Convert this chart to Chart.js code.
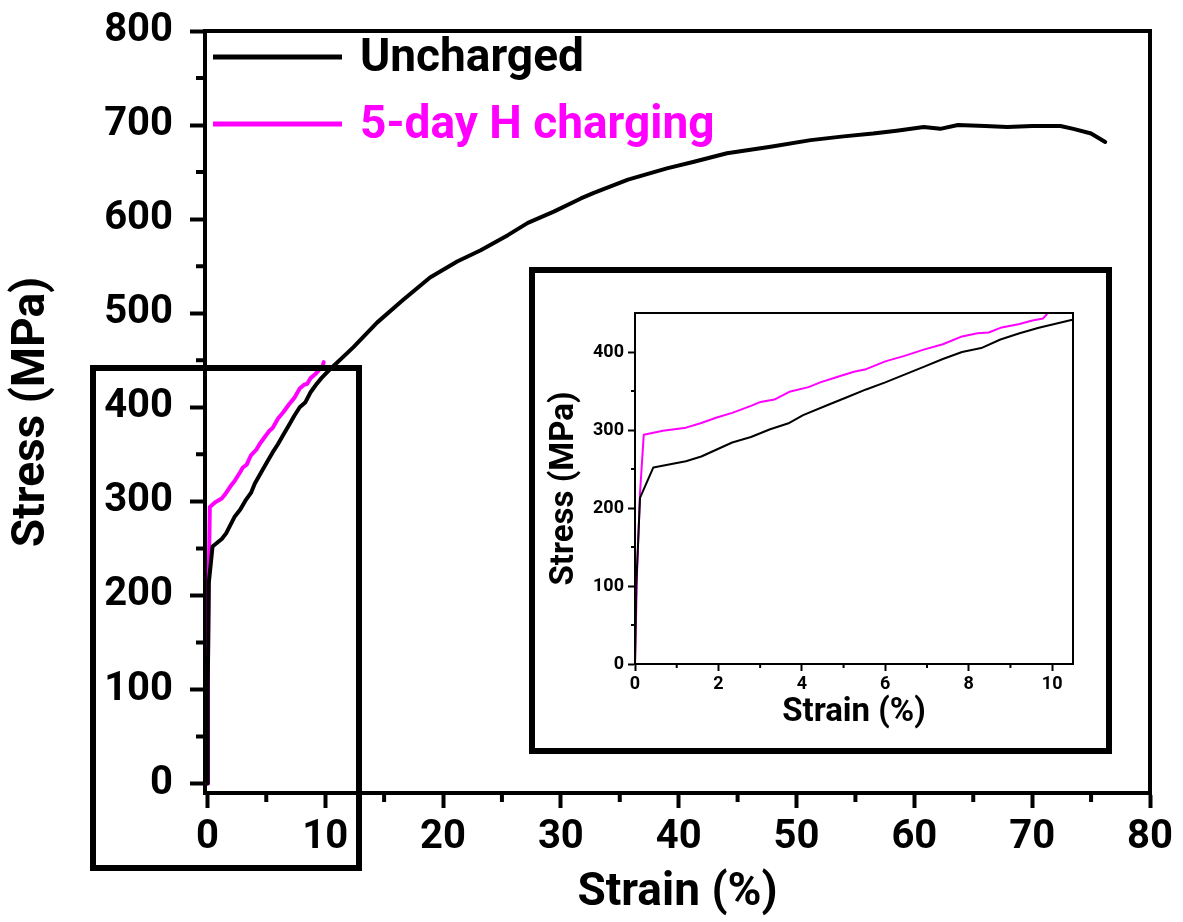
<!DOCTYPE html>
<html><head><meta charset="utf-8">
<script src="https://cdn.jsdelivr.net/npm/chart.js@4.4.1/dist/chart.umd.min.js"></script>
<style>
html,body{margin:0;padding:0;background:#fff;}
#wrap{position:relative;width:1183px;height:922px;overflow:hidden;}
#main{position:absolute;left:0;top:0;}
#zoomBox{position:absolute;left:90px;top:365px;width:272px;height:506px;border:6px solid #000;box-sizing:border-box;}
#insetBox{position:absolute;left:529px;top:267px;width:583px;height:487px;border:6px solid #000;box-sizing:border-box;background:#fff;}
#inset{position:absolute;left:0;top:0;}
</style></head>
<body><div id="wrap">
<canvas id="main" width="1183" height="922" style="width:1183px;height:922px"></canvas>
<div id="zoomBox"></div>
<div id="insetBox"><canvas id="inset" width="571" height="475" style="width:571px;height:475px"></canvas></div>
</div>
<script>
// ---- data ----
const seriesNames = ['Uncharged', '5-day H charging'];
const seriesColors = ['#000000', '#FF00FF'];

const uStrain = [0, 0.03, 0.12, 0.44, 1.22, 1.59, 1.96, 2.33, 2.78, 3.24, 3.7, 4.03, 4.62, 5.08, 5.54, 6.0, 6.46, 6.92, 7.38, 7.84, 8.3, 8.76, 9.22, 9.68, 10.46,
  12.4, 14.4, 16.6, 18.9, 21.2, 23.2, 25.5, 27.2, 29.4, 31.7, 32.8, 35.7, 39.0, 41.3, 44.1, 47.8, 51.2, 54.0, 56.5, 58.5, 60.8, 62.2, 63.7, 66.0, 67.9, 70.0, 72.4, 73.5, 75.0, 76.2];
const uStress = [0, 100, 213, 252, 260, 266, 275, 284, 291, 301, 309, 319, 332, 342, 352, 361, 371, 381, 391, 400, 405, 416, 424, 431, 441,
  464, 490, 514, 538, 555, 567, 583, 596, 608, 622, 628, 642, 654, 661, 670, 677, 684, 688, 691, 694, 698, 696, 700, 699, 698, 699, 699, 696, 691, 682];

const hStrain = [0, 0.05, 0.12, 0.21, 0.67, 1.22, 1.59, 1.96, 2.33, 2.78, 3.01, 3.34, 3.7, 4.16, 4.44, 4.9, 5.27, 5.54, 6.0, 6.46, 6.92, 7.38, 7.84, 8.21, 8.48, 8.76, 9.22, 9.5, 9.78, 9.87];
const hStress = [0, 120, 219, 294, 299, 303, 309, 316, 322, 331, 336, 339, 349, 355, 361, 369, 375, 378, 388, 395, 403, 410, 420, 424, 425, 431, 436, 440, 443, 448];

const mainXTicks = [0, 10, 20, 30, 40, 50, 60, 70, 80];
const mainXMinor = [5, 15, 25, 35, 45, 55, 65, 75];
const mainYTicks = [0, 100, 200, 300, 400, 500, 600, 700, 800];
const mainYMinor = [50, 150, 250, 350, 450, 550, 650, 750];
const insetXTicks = [0, 2, 4, 6, 8, 10];
const insetXMinor = [1, 3, 5, 7, 9];
const insetYTicks = [0, 100, 200, 300, 400];
const insetYMinor = [50, 150, 250, 350];

const xTitle = 'Strain (%)';
const yTitle = 'Stress (MPa)';

function pts(xs, ys) { return xs.map((x, i) => ({ x: x, y: ys[i] })); }

function makeDatasets(width) {
  return [
    { label: seriesNames[0], data: pts(uStrain, uStress), showLine: true, borderColor: seriesColors[0], backgroundColor: seriesColors[0],
      borderWidth: width, pointRadius: 0, tension: 0, borderJoinStyle: 'round', borderCapStyle: 'round' },
    { label: seriesNames[1], data: pts(hStrain, hStress), showLine: true, borderColor: seriesColors[1], backgroundColor: seriesColors[1],
      borderWidth: width, pointRadius: 0, tension: 0, borderJoinStyle: 'round', borderCapStyle: 'round' }
  ];
}

// frame (top/right) + minor ticks
const framePlugin = {
  id: 'frameTicks',
  afterDraw(chart, args, opts) {
    const ctx = chart.ctx, a = chart.chartArea;
    const xs = chart.scales.x, ys = chart.scales.y;
    ctx.save();
    ctx.strokeStyle = '#000';
    ctx.lineWidth = opts.width;
    ctx.lineCap = 'square';
    ctx.beginPath();
    ctx.moveTo(a.left, a.top); ctx.lineTo(a.right, a.top); ctx.lineTo(a.right, a.bottom);
    ctx.stroke();
    ctx.lineCap = 'butt';
    ctx.lineWidth = opts.tickWidth;
    ctx.beginPath();
    opts.xMinor.forEach(v => { const p = xs.getPixelForValue(v); ctx.moveTo(p, a.bottom); ctx.lineTo(p, a.bottom + opts.minorLen); });
    opts.yMinor.forEach(v => { const p = ys.getPixelForValue(v); ctx.moveTo(a.left, p); ctx.lineTo(a.left - opts.minorLen, p); });
    ctx.stroke();
    ctx.restore();
  }
};

const legendPlugin = {
  id: 'lineLegend',
  afterDraw(chart, args, opts) {
    if (!opts.show) return;
    const ctx = chart.ctx, a = chart.chartArea;
    ctx.save();
    ctx.font = 'bold ' + opts.size + 'px Roboto';
    ctx.textBaseline = 'middle';
    chart.data.datasets.forEach((ds, i) => {
      const y = a.top + opts.top + i * opts.gap;
      ctx.strokeStyle = ds.borderColor;
      ctx.lineWidth = opts.lineWidth;
      ctx.beginPath();
      ctx.moveTo(a.left + opts.x0, y); ctx.lineTo(a.left + opts.x1, y);
      ctx.stroke();
      ctx.fillStyle = ds.borderColor;
      ctx.fillText(ds.label, a.left + opts.tx, y + opts.textDy);
    });
    ctx.restore();
  }
};

function axis(o) {
  return {
    type: 'linear', min: o.min, max: o.max,
    afterBuildTicks: s => { s.ticks = o.ticks.map(v => ({ value: v })); },
    afterFit: o.fit,
    grid: { display: true, drawOnChartArea: false, drawTicks: true, tickLength: o.tickLen, tickWidth: o.tw, tickColor: '#000' },
    border: { display: true, color: '#000', width: o.tw },
    ticks: { color: '#000', font: { family: 'Roboto', weight: 'bold', size: o.fs }, padding: o.pad, maxRotation: 0, autoSkip: false },
    title: { display: true, text: o.title, color: '#000', font: { family: 'Roboto', weight: 'bold', size: o.ts }, padding: o.tpad }
  };
}

function fitX(h) { return s => { s.height = h; s.paddingLeft = 0; s.paddingRight = 0; }; }
function fitY(w) { return s => { s.width = w; s.paddingTop = 0; s.paddingBottom = 0; }; }

new Chart(document.getElementById('main'), {
  type: 'scatter',
  data: { datasets: makeDatasets(4) },
  options: {
    responsive: false, animation: false, events: [],
    layout: { padding: { top: 31, right: 33, left: 0, bottom: 0 } },
    plugins: {
      legend: { display: false }, tooltip: { enabled: false },
      frameTicks: { width: 4, tickWidth: 4, minorLen: 9, xMinor: mainXMinor, yMinor: mainYMinor },
      lineLegend: { show: true, size: 46, top: 26, gap: 67, x0: 8, x1: 137, tx: 155, lineWidth: 5, textDy: 2 }
    },
    scales: {
      x: axis({ min: -0.2, max: 80, ticks: mainXTicks, fit: fitX(129), tickLen: 15, tw: 4, fs: 40, pad: 6, title: xTitle, ts: 46, tpad: { top: 0, bottom: 1 } }),
      y: axis({ min: -10, max: 800, ticks: mainYTicks, fit: fitY(205), tickLen: 15, tw: 4, fs: 40, pad: 17, title: yTitle, ts: 46, tpad: { top: 5, bottom: 0 } })
    }
  },
  plugins: [framePlugin, legendPlugin]
});

new Chart(document.getElementById('inset'), {
  type: 'scatter',
  data: { datasets: makeDatasets(2) },
  options: {
    responsive: false, animation: false, events: [],
    layout: { padding: { top: 40, right: 33, left: 0, bottom: 0 } },
    plugins: {
      legend: { display: false }, tooltip: { enabled: false },
      frameTicks: { width: 2, tickWidth: 2, minorLen: 4, xMinor: insetXMinor, yMinor: insetYMinor },
      lineLegend: { show: false }
    },
    scales: {
      x: axis({ min: 0, max: 10.5, ticks: insetXTicks, fit: fitX(84), tickLen: 7, tw: 2, fs: 18, pad: 3, title: xTitle, ts: 33, tpad: { top: 0, bottom: 15 } }),
      y: axis({ min: 0, max: 450, ticks: insetYTicks, fit: fitY(100), tickLen: 7, tw: 2, fs: 18, pad: 4, title: yTitle, ts: 33, tpad: { top: 10, bottom: 0 } })
    }
  },
  plugins: [framePlugin, legendPlugin]
});
</script>
</body></html>
